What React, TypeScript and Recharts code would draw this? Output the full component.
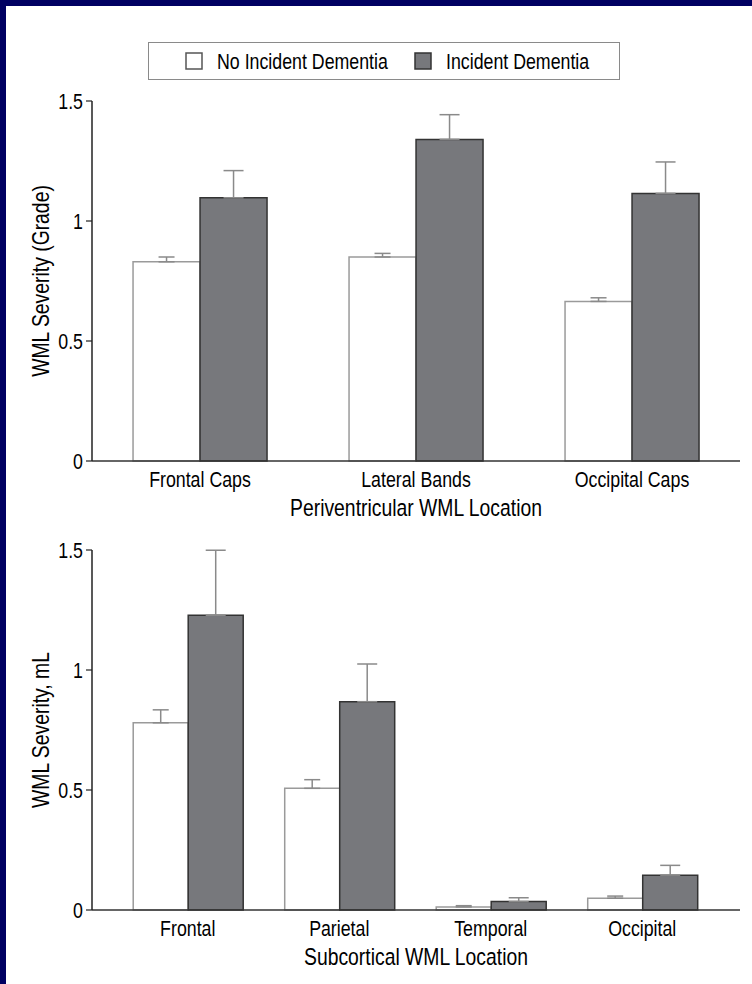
import { Bar, BarChart, ErrorBar, Label, Legend, XAxis, YAxis } from "recharts";

// no condensed face is installed, so Liberation Sans is squeezed horizontally
const FONT = "'Liberation Sans', Arial, sans-serif";
const SQUEEZE = 0.79;

// periventricular panel
const periCategories = ["Frontal Caps", "Lateral Bands", "Occipital Caps"];
const periNoDementia = [0.83, 0.85, 0.665];
const periNoDementiaErr = [0.02, 0.015, 0.015];
const periDementia = [1.097, 1.34, 1.115];
const periDementiaErr = [0.113, 0.103, 0.131];

// subcortical panel
const subCategories = ["Frontal", "Parietal", "Temporal", "Occipital"];
const subNoDementia = [0.78, 0.507, 0.013, 0.049];
const subNoDementiaErr = [0.054, 0.036, 0.005, 0.009];
const subDementia = [1.228, 0.868, 0.035, 0.145];
const subDementiaErr = [0.271, 0.157, 0.016, 0.041];

const yTicks = [0, 0.5, 1, 1.5];
const seriesOrder = ["none", "inc"];

const buildRows = (cats: string[], none: number[], noneErr: number[], inc: number[], incErr: number[]) =>
  cats.map((name, i) => ({
    name,
    none: none[i],
    noneErr: [0, noneErr[i]],
    inc: inc[i],
    incErr: [0, incErr[i]],
  }));

const periRows = buildRows(periCategories, periNoDementia, periNoDementiaErr, periDementia, periDementiaErr);
const subRows = buildRows(subCategories, subNoDementia, subNoDementiaErr, subDementia, subDementiaErr);

const swatch: Record<string, { fill: string; stroke: string; x: number }> = {
  none: { fill: "#ffffff", stroke: "#555555", x: 37 },
  inc: { fill: "#77787c", stroke: "#333333", x: 266 },
};

function LegendBox(props: any) {
  const items = [...(props.payload || [])].sort(
    (a: any, b: any) => seriesOrder.indexOf(a.dataKey) - seriesOrder.indexOf(b.dataKey)
  );
  return (
    <div style={{ boxSizing: "border-box", width: 472, height: 38, border: "1.5px solid #8a8a8a", background: "#fff" }}>
      <svg width={469} height={35} style={{ display: "block" }}>
        {items.map((it: any) => {
          const s = swatch[it.dataKey] || swatch.none;
          return (
            <g key={it.dataKey}>
              <rect x={s.x} y={10} width={16} height={16} fill={s.fill} stroke={s.stroke} strokeWidth={1.5} />
              <g transform={`translate(${s.x + 31},${18}) scale(${SQUEEZE},1)`}>
                <text dy="0.355em" fill="#000" fontSize={22.5} fontFamily={FONT}>
                  {it.value}
                </text>
              </g>
            </g>
          );
        })}
      </svg>
    </div>
  );
}

function NarrowTick(props: any) {
  const { x, y, payload, textAnchor, verticalAnchor } = props;
  const dy = verticalAnchor === "start" ? "0.71em" : "0.355em";
  return (
    <g transform={`translate(${x},${y}) scale(${SQUEEZE},1)`}>
      <text x={0} y={0} dy={dy} textAnchor={textAnchor} fill="#000" fontSize={22.5} fontFamily={FONT}>
        {payload.value}
      </text>
    </g>
  );
}

const xTitle = (text: string) => (props: any) => {
  const vb = props.viewBox || {};
  return (
    <g transform={`translate(${vb.x + vb.width / 2},${vb.y + 55}) scale(${SQUEEZE},1)`}>
      <text textAnchor="middle" fill="#000" fontSize={24.5} fontFamily={FONT}>
        {text}
      </text>
    </g>
  );
};

const yTitle = (text: string) => (props: any) => {
  const vb = props.viewBox || {};
  const cx = vb.x + 8;
  const cy = vb.y + vb.height / 2;
  return (
    <g transform={`translate(${cx},${cy}) rotate(-90) scale(${SQUEEZE},1)`}>
      <text textAnchor="middle" dy="0.355em" fill="#000" fontSize={24.5} fontFamily={FONT}>
        {text}
      </text>
    </g>
  );
};

function Panel(props: {
  rows: any[];
  height: number;
  margin: any;
  gap: string;
  xPad?: { left: number; right: number };
  xLabel: string;
  yLabel: string;
  legend?: boolean;
}) {
  return (
    <BarChart
      width={752}
      height={props.height}
      data={props.rows}
      margin={props.margin}
      barCategoryGap={props.gap}
      barGap={0}
    >
      {props.legend && (
        <Legend verticalAlign="top" wrapperStyle={{ left: 148, top: 42, width: 472 }} content={LegendBox} />
      )}
      <XAxis
        dataKey="name"
        height={70}
        interval={0}
        padding={props.xPad || { left: 0, right: 0 }}
        axisLine={{ stroke: "#333", strokeWidth: 1.5 }}
        tickLine={false}
        tickSize={6}
        tickMargin={4}
        tick={<NarrowTick />}
      >
        <Label content={xTitle(props.xLabel)} />
      </XAxis>
      <YAxis
        type="number"
        domain={[0, 1.5]}
        ticks={yTicks}
        width={60}
        axisLine={{ stroke: "#222", strokeWidth: 1.5 }}
        tickLine={{ stroke: "#222", strokeWidth: 1.2 }}
        tickSize={6}
        tickMargin={3}
        tick={<NarrowTick />}
      >
        <Label content={yTitle(props.yLabel)} />
      </YAxis>
      <Bar dataKey="none" name="No Incident Dementia" fill="#ffffff" stroke="#9a9a9a" strokeWidth={1.5} isAnimationActive={false}>
        <ErrorBar dataKey="noneErr" direction="y" width={8} stroke="#8a8a8a" strokeWidth={1.5} />
      </Bar>
      <Bar dataKey="inc" name="Incident Dementia" fill="#77787c" stroke="#333333" strokeWidth={1.5} isAnimationActive={false}>
        <ErrorBar dataKey="incErr" direction="y" width={10} stroke="#8a8a8a" strokeWidth={1.5} />
      </Bar>
    </BarChart>
  );
}

export default function App() {
  return (
    <div style={{ position: "absolute", left: 0, top: 0, width: 752, height: 984, background: "#fff", overflow: "hidden" }}>
      <div style={{ position: "absolute", left: 0, top: 0, width: 752, height: 6, background: "#000062" }} />
      <div style={{ position: "absolute", left: 0, top: 0, width: 6, height: 984, background: "#000062" }} />
      <div style={{ position: "absolute", left: 0, top: 0 }}>
        <Panel
          rows={periRows}
          height={531}
          margin={{ top: 63, right: 12, left: 32, bottom: 0 }}
          gap="19%"
          xLabel="Periventricular WML Location"
          yLabel="WML Severity (Grade)"
          legend
        />
      </div>
      <div style={{ position: "absolute", left: 0, top: 531 }}>
        <Panel
          rows={subRows}
          height={453}
          margin={{ top: 19, right: 12, left: 32, bottom: 4 }}
          gap="14%"
          xPad={{ left: 20, right: 22 }}
          xLabel="Subcortical WML Location"
          yLabel="WML Severity, mL"
        />
      </div>
    </div>
  );
}
